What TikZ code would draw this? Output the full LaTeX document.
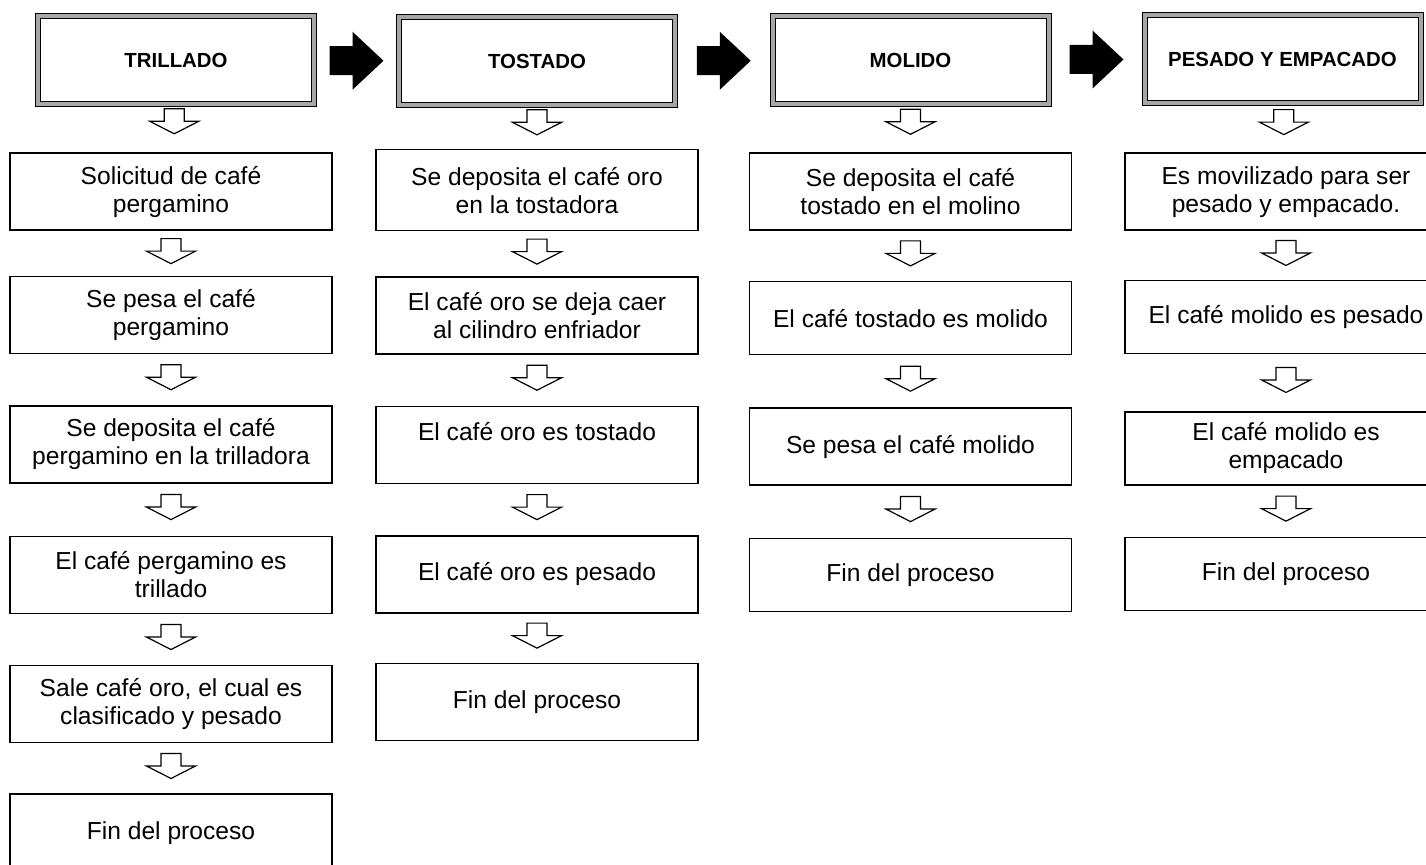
\documentclass[tikz,border=0pt]{standalone}
\usepackage{fontspec}
\setmainfont{Liberation Sans}
\usetikzlibrary{positioning,calc}
\newcommand{\bajada}[3][0.45]{\draw[hueca,shift={($(#2.south)!#1!(#3.north)$)}] (-5pt,6.25pt) -- (-5pt,0pt) -- (-12.25pt,0pt) -- (0pt,-6.25pt) -- (12.25pt,0pt) -- (5pt,0pt) -- (5pt,6.25pt) -- cycle;}
\newcommand{\avance}[2]{\fill[shift={($(#1.east)!0.5!(#2.west)$)}] (-13.5pt,7.25pt) -- (-2pt,7.25pt) -- (-2pt,14.5pt) -- (13.5pt,0pt) -- (-2pt,-14.5pt) -- (-2pt,-7.25pt) -- (-13.5pt,-7.25pt) -- cycle;}
\begin{document}
\begin{tikzpicture}[x=0.5pt,y=-0.5pt,
  etapa/.style={draw,line width=0.5pt,double=gray!70,double distance=2pt,minimum width=138pt,minimum height=44pt,font=\bfseries\fontsize{10.2}{12}\selectfont},
  paso/.style={draw,line width=0.7pt,minimum width=161pt,minimum height=38.5pt,align=center,inner sep=2pt,font=\fontsize{12.3}{14}\selectfont},
  corto/.style={paso,minimum height=36.5pt},
  hueca/.style={draw,line width=0.6pt,fill=white}]
  \useasboundingbox (0,0) rectangle (1426,865);
  \node[etapa](trillado) at (176,60){TRILLADO};
  \node[paso,below=24pt of trillado,xshift=-2.5pt](t1){Solicitud de café\\pergamino};
  \node[paso,below=22.5pt of t1](t2){Se pesa el café\\pergamino};
  \node[paso,below=25.5pt of t2](t3){Se deposita el café\\pergamino en la trilladora};
  \node[paso,below=26pt of t3](t4){El café pergamino es\\trillado};
  \node[paso,below=25.5pt of t4](t5){Sale café oro, el cual es\\clasificado y pesado};
  \node[paso,below=25pt of t5](t6){Fin del proceso};
  \node[etapa](tostado) at (537,61.5){TOSTADO};
  \node[paso,below=21.5pt of tostado,minimum height=40.5pt](o1){Se deposita el café oro\\en la tostadora};
  \node[paso,below=22.5pt of o1](o2){El café oro se deja caer\\al cilindro enfriador};
  \node[paso,below=25.5pt of o2](o3){El café oro es tostado\\~};
  \node[paso,below=25.5pt of o3](o4){El café oro es pesado};
  \node[paso,below=24.5pt of o4](o5){Fin del proceso};
  \node[etapa](molido) at (910.5,60){MOLIDO};
  \node[paso,below=24pt of molido](m1){Se deposita el café\\tostado en el molino};
  \node[corto,below=25pt of m1](m2){El café tostado es molido};
  \node[paso,below=26pt of m2](m3){Se pesa el café molido};
  \node[corto,below=26pt of m3](m4){Fin del proceso};
  \node[etapa](pesado) at (1282.5,59){PESADO Y EMPACADO};
  \node[paso,below=24.5pt of pesado,xshift=1.75pt](p1){Es movilizado para ser\\pesado y empacado.};
  \node[corto,below=24.5pt of p1](p2){El café molido es pesado};
  \node[corto,below=28.5pt of p2](p3){El café molido es\\empacado};
  \node[corto,below=25.5pt of p3](p4){Fin del proceso};
  \avance{trillado}{tostado}
  \avance{tostado}{molido}
  \avance{molido}{pesado}
  \bajada[0.35]{trillado}{t1}
  \bajada{t1}{t2}
  \bajada{t2}{t3}
  \bajada{t3}{t4}
  \bajada{t4}{t5}
  \bajada{t5}{t6}
  \bajada[0.38]{tostado}{o1}
  \bajada{o1}{o2}
  \bajada{o2}{o3}
  \bajada{o3}{o4}
  \bajada{o4}{o5}
  \bajada[0.36]{molido}{m1}
  \bajada{m1}{m2}
  \bajada{m2}{m3}
  \bajada{m3}{m4}
  \bajada[0.38]{pesado}{p1}
  \bajada{p1}{p2}
  \bajada{p2}{p3}
  \bajada{p3}{p4}
\end{tikzpicture}
\end{document}
